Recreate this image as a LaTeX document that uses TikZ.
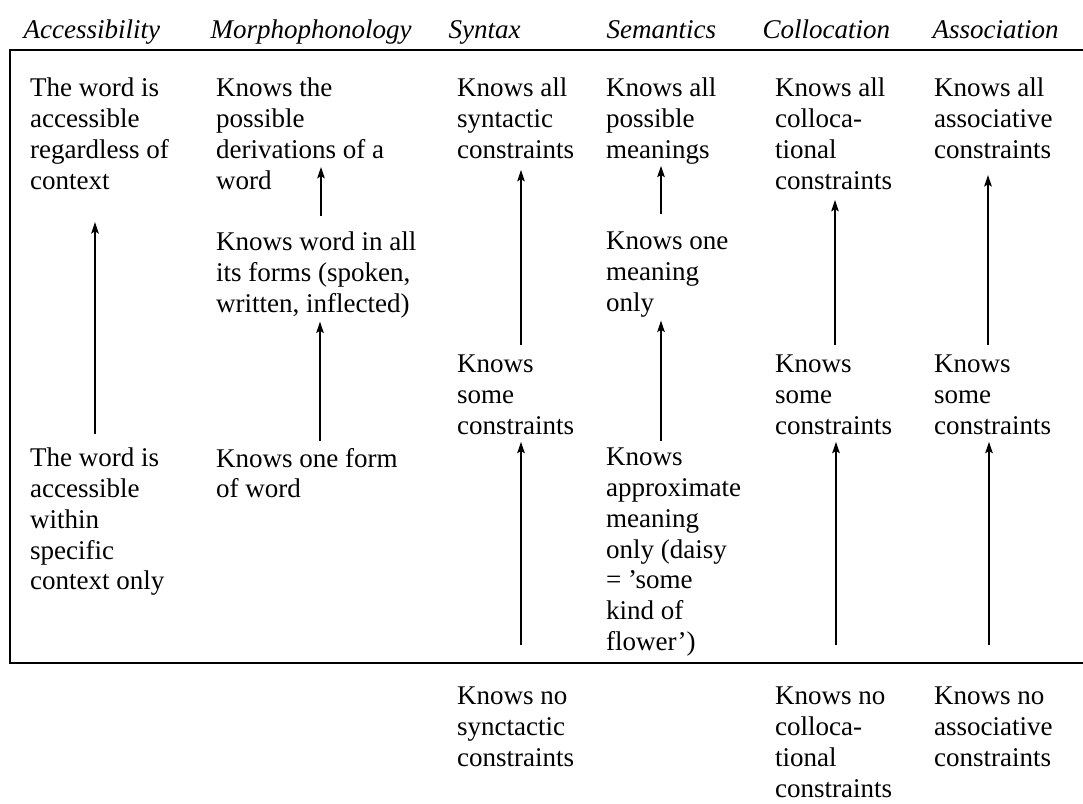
\documentclass[tikz,border=0pt]{standalone}
\usepackage{fontspec}
\setmainfont{Liberation Serif}
\usetikzlibrary{arrows.meta}

\begin{document}
\begin{tikzpicture}[x=0.37pt, y=-0.37pt,
    cell/.style={anchor=north west, inner sep=0pt, outer sep=0pt, align=left,
                 font=\fontsize{10}{11.4}\selectfont},
    head/.style={anchor=base west, inner sep=0pt, font=\fontsize{10}{11.4}\selectfont\itshape},
    arr/.style={-{Stealth[length=4.2pt,width=2.8pt,inset=0.8pt]}, line width=0.5pt},
    rule/.style={line width=1.1pt}]
    \useasboundingbox (0,0) rectangle (1083,804);
    % column heads
    \foreach \nm/\px/\txt in {hacc/23/Accessibility, hmor/210/Morphophonology,
        hsyn/448/Syntax, hsem/606/Semantics, hcol/762/Collocation, hass/932/Association}
    {
        \node[head] (\nm) at (\px,39) {\txt};
    }
    % the frame, open on the right
    \draw[rule] (1083,50) -- (10,50) -- (10,663) -- (1083,663);
    % upper row
    \node[cell] (acchi) at (30,78)  {The word is\\accessible\\regardless of\\context};
    \node[cell] (morhi) at (216,78) {Knows the\\possible\\derivations of a\\word};
    \node[cell] (synhi) at (457,78) {Knows all\\syntactic\\constraints};
    \node[cell] (semhi) at (606,78) {Knows all\\possible\\meanings};
    \node[cell] (colhi) at (775,78) {Knows all\\colloca-\\tional\\constraints};
    \node[cell] (asshi) at (934,78) {Knows all\\associative\\constraints};
    % middle row
    \node[cell] (mormid) at (216,232) {Knows word in all\\its forms (spoken,\\written, inflected)};
    \node[cell] (semmid) at (606,232) {Knows one\\meaning\\only};
    \node[cell] (synmid) at (457,355) {Knows\\some\\constraints};
    \node[cell] (colmid) at (775,355) {Knows\\some\\constraints};
    \node[cell] (assmid) at (934,355) {Knows\\some\\constraints};
    % lower row
    \node[cell] (acclo) at (30,448)  {The word is\\accessible\\within\\specific\\context only};
    \node[cell] (morlo) at (216,448) {Knows one form\\of word};
    \node[cell] (semlo) at (606,448) {Knows\\approximate\\meaning\\only (daisy\\= 'some\\kind of\\flower')};
    % below the frame
    \node[cell] (synlo) at (457,687) {Knows no\\synctactic\\constraints};
    \node[cell] (collo) at (775,687) {Knows no\\colloca-\\tional\\constraints};
    \node[cell] (asslo) at (934,687) {Knows no\\associative\\constraints};
    % arrows: from/to/x/shorten tail/shorten tip
    \foreach \lo/\hi/\ax/\st/\sh in {acclo/acchi/95/5.2pt/12.1pt,
        mormid/morhi/321/5.9pt/-8.3pt, morlo/mormid/320/2.6pt/1.3pt,
        synmid/synhi/521/3.7pt/4.2pt, synlo/synmid/521/15.5pt/2.7pt,
        semmid/semhi/661/6.7pt/0.6pt, semlo/semmid/661/2.6pt/1.3pt,
        colmid/colhi/835/3.7pt/3.9pt, collo/colmid/836/15.5pt/2.7pt,
        assmid/asshi/988/3.7pt/6.1pt, asslo/assmid/989/15.5pt/2.7pt}
    {
        \draw[arr, shorten <=\st, shorten >=\sh] (\lo.north -| \ax,0) -- (\hi.south -| \ax,0);
    }
\end{tikzpicture}
\end{document}
